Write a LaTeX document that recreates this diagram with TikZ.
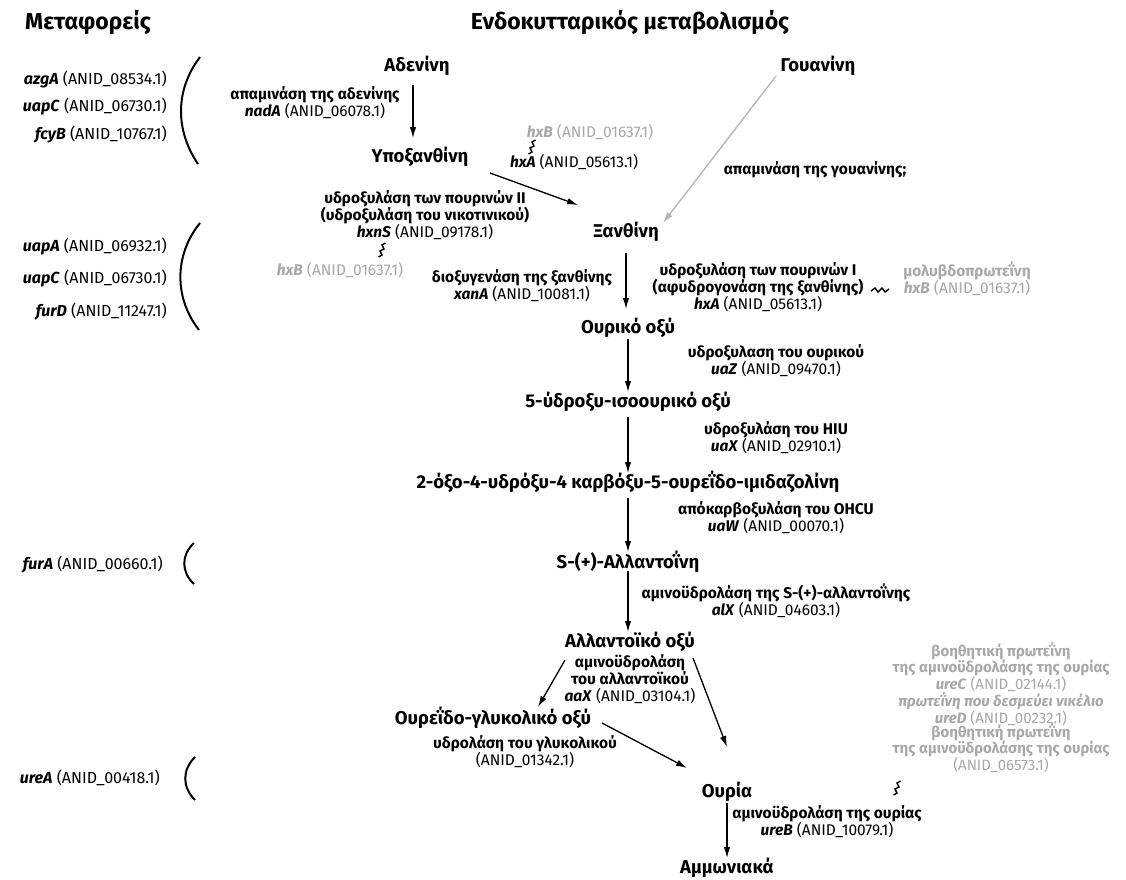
\documentclass[tikz,border=0pt]{standalone}
\usepackage{fontspec}
\setmainfont{Fira Sans}
\usetikzlibrary{arrows.meta}
\definecolor{lgray}{HTML}{A8A8A8}
\definecolor{agray}{HTML}{B4B4B4}
\newcommand{\gn}[1]{\textbf{\textit{#1}}}
\newcommand{\en}[1]{\textbf{#1}}
\tikzset{
 cmp/.style={font=\fontsize{18.5}{21}\selectfont\bfseries, inner sep=0pt},
 lab/.style={font=\fontsize{15.5}{17}\selectfont, align=center, inner sep=0pt},
 glab/.style={text=lgray, font=\fontsize{15}{14}\selectfont, align=center, inner sep=0pt},
 tlab/.style={font=\fontsize{16}{18}\selectfont, anchor=east, inner sep=0pt},
 hdr/.style={font=\fontsize{23}{26}\selectfont\bfseries, inner sep=0pt},
 arr/.style={line width=1.3pt, -{Latex[length=11pt,width=6.5pt]}},
 garr/.style={arr, draw=agray},
 brk/.style={line width=2pt},
 sq/.style={line width=1.4pt},
 zz/.pic={\draw[sq] (3.5,-7) -- (0,-5) -- (2,-1) -- (-2,1) -- (0,5) -- (-3.5,7);},
 zzh/.pic={\draw[sq] (-9,1) -- (-5,-2) -- (-2,2) -- (2,-2) -- (5,2) -- (9,-1);},
}
\begin{document}
\begin{tikzpicture}[x=1pt,y=-1pt]
\fill[white] (0,0) rectangle (1126,879);
\useasboundingbox (0,0) rectangle (1126,879);
% headers
\node[hdr] (h1) at (88,22) {Μεταφορείς};
\node[hdr] (h2) at (630,22) {Ενδοκυτταρικός μεταβολισμός};
% transporters
\node[tlab] (t1) at (167,80) {\gn{azgA} (ANID\_08534.1)};
\node[tlab] (t2) at (167,107) {\gn{uapC} (ANID\_06730.1)};
\node[tlab] (t3) at (167,135) {\gn{fcyB} (ANID\_10767.1)};
\node[tlab] (t4) at (167,247) {\gn{uapA} (ANID\_06932.1)};
\node[tlab] (t5) at (167,279) {\gn{uapC} (ANID\_06730.1)};
\node[tlab] (t6) at (167,312) {\gn{furD} (ANID\_11247.1)};
\node[tlab] (t7) at (163,565) {\gn{furA} (ANID\_00660.1)};
\node[tlab] (t8) at (160,778) {\gn{ureA} (ANID\_00418.1)};
\draw[brk] (200,57) .. controls (175,90) and (175,130) .. (198,164);
\draw[brk] (200,223) .. controls (174,255) and (174,298) .. (199,330);
\draw[brk] (194,543) .. controls (181,555) and (181,572) .. (194,584);
\draw[brk] (195,757) .. controls (182,770) and (182,787) .. (195,800);
% compounds
\node[cmp] (ade) at (417,66) {Αδενίνη};
\node[cmp] (gua) at (818,66) {Γουανίνη};
\node[cmp] (hyp) at (420,157) {Υποξανθίνη};
\node[cmp] (xan) at (626,232) {Ξανθίνη};
\node[cmp] (uric) at (628,328) {Ουρικό οξύ};
\node[cmp] (hiu) at (628,402) {5-ύδροξυ-ισοουρικό οξύ};
\node[cmp] (ohcu) at (628,482) {2-όξο-4-υδρόξυ-4 καρβόξυ-5-ουρεΐδο-ιμιδαζολίνη};
\node[cmp] (alln) at (628,562) {S-(+)-Αλλαντοΐνη};
\node[cmp] (alla) at (630,642) {Αλλαντοϊκό οξύ};
\node[cmp] (ugly) at (493,718) {Ουρεΐδο-γλυκολικό οξύ};
\node[cmp] (urea) at (727,792) {Ουρία};
\node[cmp] (amm) at (727,868) {Αμμωνιακά};
% arrows
\draw[arr] ([shift={(-4,19)}]ade.center) -- ([shift={(-7,-19)}]hyp.center);
\draw[arr] ([shift={(70,16)}]hyp.center) -- ([shift={(-48,-27)}]xan.center);
\draw[garr] ([shift={(-42,10)}]gua.center) -- ([shift={(37,-9)}]xan.center);
\draw[arr] ([shift={(0,21)}]xan.center) -- ([shift={(-2,-19)}]uric.center);
\draw[arr] ([shift={(0,11)}]uric.center) -- ([shift={(0,-10)}]hiu.center);
\draw[arr] ([shift={(0,15)}]hiu.center) -- ([shift={(0,-9)}]ohcu.center);
\draw[arr] ([shift={(0,16)}]ohcu.center) -- ([shift={(0,-10)}]alln.center);
\draw[arr] ([shift={(0,9)}]alln.center) -- ([shift={(-2,-10)}]alla.center);
\draw[arr] ([shift={(-65,18)}]alla.center) -- ([shift={(45,-11)}]ugly.center);
\draw[arr] ([shift={(63,16)}]alla.center) -- ([shift={(0,-45)}]urea.center);
\draw[arr] ([shift={(109,5)}]ugly.center) -- ([shift={(-40,-24)}]urea.center);
\draw[arr] ([shift={(0,11)}]urea.center) -- ([shift={(0,-10)}]amm.center);
% labels
\node[lab] (lnad) at (315,103) {\en{απαμινάση της αδενίνης}\\\gn{nadA} (ANID\_06078.1)};
\node[lab,text=lgray] (lhxb1) at (590,132) {\gn{hxB} (ANID\_01637.1)};
\node[lab] (lhxa1) at (574,162) {\gn{hxA} (ANID\_05613.1)};
\pic at (532,147) {zz};
\node[lab] (lhxn) at (425,215) {\en{υδροξυλάση των πουρινών II}\\\en{(υδροξυλάση του νικοτινικού)}\\\gn{hxnS} (ANID\_09178.1)};
\pic at (382,250) {zz};
\node[lab,text=lgray] (lhxb2) at (340,270) {\gn{hxB} (ANID\_01637.1)};
\node[lab] (lxan) at (522,286) {\en{διοξυγενάση της ξανθίνης}\\\gn{xanA} (ANID\_10081.1)};
\node[lab] (lgua) at (815,170) {\en{απαμινάση της γουανίνης;}};
\node[lab] (lhxa2) at (758,287) {\en{υδροξυλάση των πουρινών I}\\\en{(αφυδρογονάση της ξανθίνης)}\\\gn{hxA} (ANID\_05613.1)};
\pic at (880,290) {zzh};
\node[lab,text=lgray] (lmol) at (967,279) {\en{μολυβδοπρωτεΐνη}\\\gn{hxB} (ANID\_01637.1)};
\node[lab] (luaz) at (776,361) {\en{υδροξυλαση του ουρικού}\\\gn{uaZ} (ANID\_09470.1)};
\node[lab] (luax) at (776,438) {\en{υδροξυλάση του HIU}\\\gn{uaX} (ANID\_02910.1)};
\node[lab] (luaw) at (776,518) {\en{απόκαρβοξυλάση του OHCU}\\\gn{uaW} (ANID\_00070.1)};
\node[lab] (lalx) at (776,601) {\en{αμινοϋδρολάση της S-(+)-αλλαντοΐνης}\\\gn{alX} (ANID\_04603.1)};
\node[lab] (laax) at (630,679) {\en{αμινοϋδρολάση}\\\en{του αλλαντοϊκού}\\\gn{aaX} (ANID\_03104.1)};
\node[lab] (lgly) at (525,752) {\en{υδρολάση του γλυκολικού}\\(ANID\_01342.1)};
\node[lab] (lureb) at (827,822) {\en{αμινοϋδρολάση της ουρίας}\\\gn{ureB} (ANID\_10079.1)};
\node[glab] (g1) at (1001,667) {\en{βοηθητική πρωτεΐνη}\\\en{της αμινοϋδρολάσης της ουρίας}\\\gn{ureC} (ANID\_02144.1)};
\node[glab] (g2) at (1001,709) {\gn{πρωτεΐνη που δεσμεύει νικέλιο}\\\gn{ureD} (ANID\_00232.1)};
\node[glab] (g3) at (1001,748) {\en{βοηθητική πρωτεΐνη}\\\en{της αμινοϋδρολάσης της ουρίας}\\(ANID\_06573.1)};
\pic at (897,788) {zz};
\end{tikzpicture}
\end{document}
